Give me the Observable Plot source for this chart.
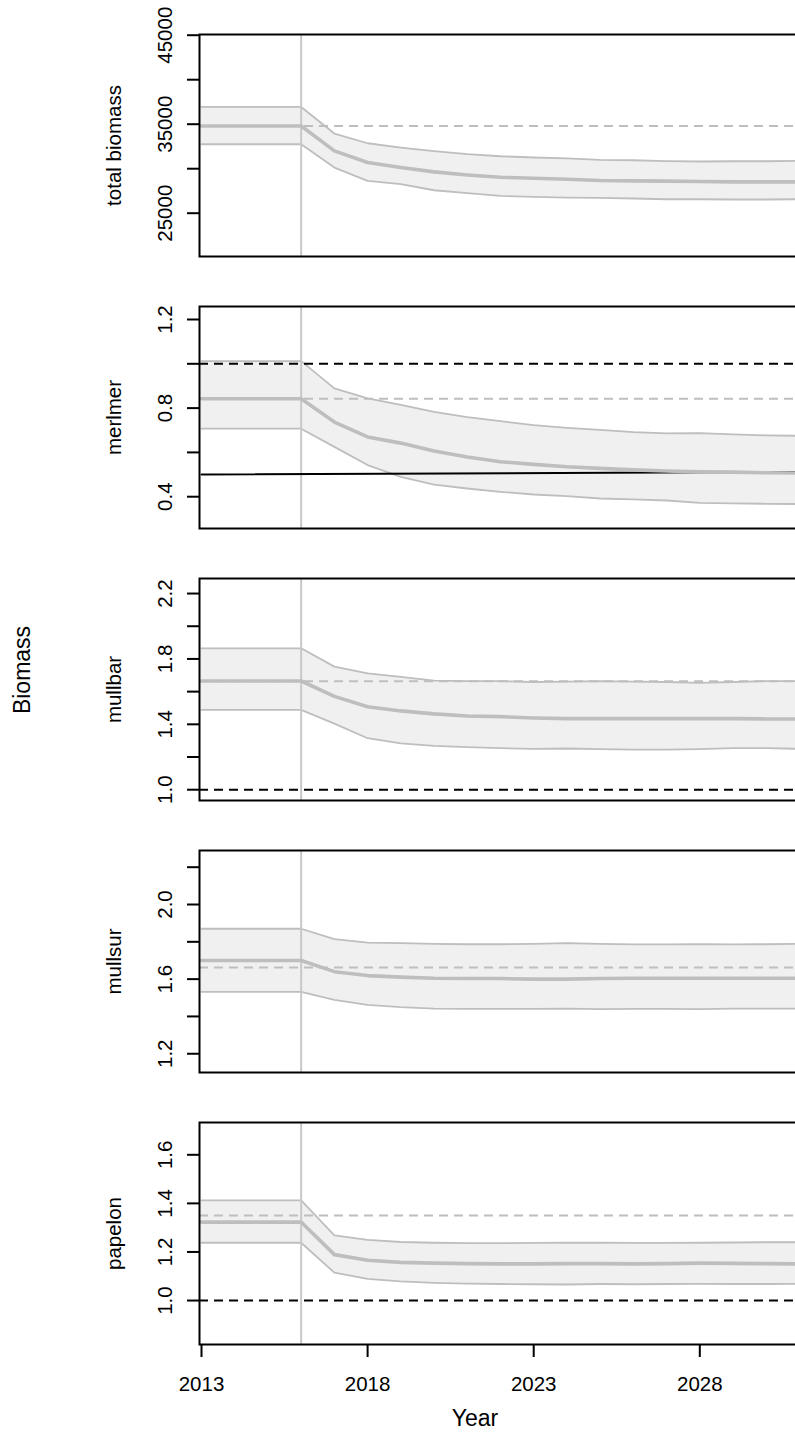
<!DOCTYPE html>
<html><head><meta charset="utf-8">
<script src="https://cdn.jsdelivr.net/npm/d3@7"></script>
<script src="https://cdn.jsdelivr.net/npm/@observablehq/plot@0.6"></script>
<style>
html,body{margin:0;padding:0;background:#fff;overflow:hidden;}
#wrap{position:relative;width:795px;height:1434px;font-family:"Liberation Sans",Arial,sans-serif;overflow:hidden;}
#wrap svg{display:block;max-width:none;overflow:hidden;}
.lab{position:absolute;font-size:23px;color:#000;white-space:nowrap;line-height:1;}
</style></head><body><div id="wrap"></div>
<script>
// ---- data ----
const years = [2013,2014,2015,2016,2017,2018,2019,2020,2021,2022,2023,2024,2025,2026,2027,2028,2029,2030,2031];
const lastHistYear = 2016;
const xTicks = [2013, 2018, 2023, 2028];

const tbUpper  = [36940,36940,36940,36940,33950,32860,32380,31970,31630,31400,31260,31150,30990,30950,30850,30810,30840,30840,30880];
const tbMedian = [34800,34800,34800,34800,32000,30700,30130,29640,29300,29040,28930,28820,28670,28630,28600,28560,28520,28520,28520];
const tbLower  = [32750,32750,32750,32750,30130,28630,28260,27580,27250,26940,26830,26760,26720,26650,26570,26570,26540,26540,26570];
const tbTicks = [25000,30000,35000,40000,45000];
const tbLabels = [25000,35000,45000];

const mmUpper  = [1.012,1.012,1.012,1.012,0.889,0.844,0.815,0.783,0.759,0.741,0.723,0.711,0.702,0.692,0.686,0.687,0.681,0.677,0.675];
const mmMedian = [0.842,0.842,0.842,0.842,0.737,0.670,0.642,0.606,0.579,0.558,0.546,0.535,0.528,0.521,0.516,0.512,0.511,0.508,0.507];
const mmLower  = [0.707,0.707,0.707,0.707,0.625,0.543,0.490,0.455,0.437,0.422,0.410,0.403,0.392,0.388,0.383,0.372,0.370,0.368,0.367];
const mmLimitYears = [2013, 2031];
const mmLimit = [0.500, 0.512];
const mmTicks = [0.4,0.6,0.8,1.0,1.2];
const mmLabels = [0.4,0.8,1.2];

const mbUpper  = [1.865,1.865,1.865,1.865,1.753,1.712,1.690,1.667,1.664,1.664,1.659,1.661,1.664,1.661,1.659,1.653,1.659,1.664,1.664];
const mbMedian = [1.665,1.665,1.665,1.665,1.571,1.508,1.482,1.464,1.451,1.447,1.439,1.435,1.435,1.435,1.435,1.435,1.435,1.433,1.433];
const mbLower  = [1.488,1.488,1.488,1.488,1.404,1.315,1.284,1.268,1.260,1.254,1.250,1.252,1.248,1.245,1.245,1.248,1.254,1.254,1.250];
const mbTicks = [1.0,1.2,1.4,1.6,1.8,2.0,2.2];
const mbLabels = [1.0,1.4,1.8,2.2];

const msUpper  = [1.870,1.870,1.870,1.870,1.815,1.796,1.793,1.789,1.787,1.787,1.789,1.793,1.789,1.786,1.786,1.787,1.786,1.787,1.789];
const msMedian = [1.700,1.700,1.700,1.700,1.640,1.619,1.611,1.605,1.603,1.603,1.600,1.600,1.603,1.605,1.605,1.605,1.605,1.605,1.605];
const msLower  = [1.532,1.532,1.532,1.532,1.489,1.462,1.450,1.442,1.441,1.441,1.441,1.442,1.439,1.441,1.441,1.439,1.442,1.442,1.442];
const msTicks = [1.2,1.4,1.6,1.8,2.0,2.2];
const msLabels = [1.2,1.6,2.0];

const ppUpper  = [1.412,1.412,1.412,1.412,1.268,1.250,1.241,1.238,1.236,1.236,1.237,1.238,1.238,1.237,1.237,1.238,1.239,1.240,1.240];
const ppMedian = [1.323,1.323,1.323,1.323,1.189,1.166,1.157,1.154,1.152,1.151,1.151,1.152,1.152,1.151,1.152,1.154,1.153,1.152,1.151];
const ppLower  = [1.238,1.238,1.238,1.238,1.115,1.089,1.079,1.073,1.070,1.068,1.067,1.066,1.068,1.067,1.068,1.069,1.068,1.068,1.069];
const ppTicks = [1.0,1.2,1.4,1.6];
const ppLabels = [1.0,1.2,1.4,1.6];

const panelNames = ["total biomass","merlmer","mullbar","mullsur","papelon"];

// ---- build ----
const rowsOf = (u, m, l) => years.map((year, i) => ({year, upper: u[i], median: m[i], lower: l[i]}));

const panels = [
  {name: panelNames[0], rows: rowsOf(tbUpper, tbMedian, tbLower), domain: [20135, 45079], ticks: tbTicks, labels: tbLabels, fmt: d => String(d), grayRef: [tbMedian[0]], blackRef: [], limit: null},
  {name: panelNames[1], rows: rowsOf(mmUpper, mmMedian, mmLower), domain: [0.2565, 1.2587], ticks: mmTicks, labels: mmLabels, fmt: d => d.toFixed(1), grayRef: [mmMedian[0]], blackRef: [1.0], limit: mmLimitYears.map((year, i) => ({year, v: mmLimit[i]}))},
  {name: panelNames[2], rows: rowsOf(mbUpper, mbMedian, mbLower), domain: [0.934, 2.292], ticks: mbTicks, labels: mbLabels, fmt: d => d.toFixed(1), grayRef: [1.663], blackRef: [1.0], limit: null},
  {name: panelNames[3], rows: rowsOf(msUpper, msMedian, msLower), domain: [1.0995, 2.2895], ticks: msTicks, labels: msLabels, fmt: d => d.toFixed(1), grayRef: [1.662], blackRef: [], limit: null},
  {name: panelNames[4], rows: rowsOf(ppUpper, ppMedian, ppLower), domain: [0.819, 1.733], ticks: ppTicks, labels: ppLabels, fmt: d => d.toFixed(1), grayRef: [1.35], blackRef: [1.0], limit: null}
];

const wrap = document.getElementById("wrap");
const GRAY = "#bebebe";

panels.forEach((p, idx) => {
  const last = idx === panels.length - 1;
  const marks = [
    Plot.areaY(p.rows, {x: "year", y1: "lower", y2: "upper", fill: "#f0f0f0"}),
    Plot.line(p.rows, {x: "year", y: "upper", stroke: GRAY, strokeWidth: 1.8}),
    Plot.line(p.rows, {x: "year", y: "lower", stroke: GRAY, strokeWidth: 1.8}),
    Plot.ruleX([lastHistYear], {stroke: "#c8c8c8", strokeWidth: 2}),
    Plot.ruleY(p.grayRef, {stroke: GRAY, strokeWidth: 2, strokeDasharray: "9,6"}),
    Plot.ruleY(p.blackRef, {stroke: "black", strokeWidth: 2, strokeDasharray: "9,6"}),
  ];
  if (p.limit) marks.push(Plot.line(p.limit, {x: "year", y: "v", stroke: "black", strokeWidth: 2}));
  marks.push(
    Plot.line(p.rows, {x: "year", y: "median", stroke: GRAY, strokeWidth: 3.6}),
    Plot.axisY(p.ticks, {anchor: "left", tickSize: 12, strokeWidth: 2, tickFormat: () => "", label: null}),
    Plot.text(p.labels, {y: d => d, text: p.fmt, frameAnchor: "left", dx: -34, rotate: -90, textAnchor: "middle", lineAnchor: "middle", fontSize: 20.5, fill: "black"}),
    Plot.text([p.name], {text: d => d, frameAnchor: "left", dx: -85, rotate: -90, textAnchor: "middle", lineAnchor: "middle", fontSize: 20.5, fill: "black"}),
    Plot.frame({stroke: "black", strokeWidth: 2})
  );
  if (last) {
    marks.push(
      Plot.axisX(xTicks, {anchor: "bottom", tickSize: 13, strokeWidth: 2, tickFormat: () => "", label: null}),
      Plot.text(xTicks, {x: d => d, text: d => String(d), frameAnchor: "bottom", dy: 39.6, textAnchor: "middle", lineAnchor: "middle", fontSize: 20.5, fill: "black"})
    );
  }
  const svg = Plot.plot({
    width: 795,
    height: last ? 346 : 272,
    marginTop: 34,
    marginBottom: last ? 90 : 16,
    marginLeft: 199,
    marginRight: -70,
    style: {fontFamily: "'Liberation Sans', Arial, sans-serif", fontSize: "20px", background: "white", overflow: "hidden"},
    x: {domain: [2013, 2033], range: [201, 201 + 20 * 33.22], label: null, ...(last ? {} : {axis: null})},
    y: {domain: p.domain, label: null},
    marks
  });
  wrap.appendChild(svg);
});

const yl = document.createElement("div");
yl.className = "lab";
yl.textContent = "Biomass";
yl.style.left = "22px"; yl.style.top = "670px";
yl.style.transform = "translate(-50%,-50%) rotate(-90deg)";
wrap.appendChild(yl);

const xl = document.createElement("div");
xl.className = "lab";
xl.textContent = "Year";
xl.style.left = "475px"; xl.style.top = "1418px";
xl.style.transform = "translate(-50%,-50%)";
wrap.appendChild(xl);
</script>
</body></html>
